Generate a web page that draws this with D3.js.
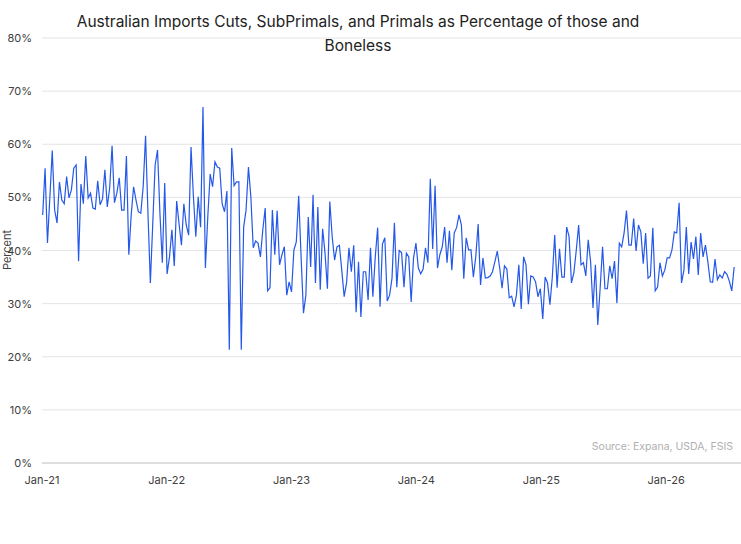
<!DOCTYPE html>
<html><head><meta charset="utf-8">
<script src="https://cdn.jsdelivr.net/npm/d3@7"></script>
<style>body{margin:0;background:#fff;font-family:Inter,"Noto Sans",sans-serif}</style>
</head><body><svg id="chart" width="741" height="544"></svg>
<script>
// weekly share, percent
const y2021 = [46.7,55.5,41.4,50,58.8,47.6,45.2,52.9,49.5,48.8,53.9,49.9,51.4,55.5,56.1,38,52.5,48.8,57.8,49.9,50.8,48,47.8,53.1,48.6,49.7,55.2,48.2,51.8,59.7,49,50.8,53.7,47.6,47.6,57.8,39.2,46.7,52,49.5,47.3,47,52,61.6,47,33.9,45,56.1,58.9,47,37.7,52.7];
const y2022 = [35.6,38.8,43.9,37.1,49.3,45,41,48.8,44.8,42.9,59.5,50.1,42.6,50.1,44.4,67,36.7,46.3,54.4,52,56.7,55.7,55.5,48.8,47.3,51.2,21.3,59.3,52.2,52.9,52.9,21.3,44.4,47.6,55.7,50.1,40.5,41.8,41.4,38.8,43.9,48,32.4,33,47.6,39.2,47.5,37.3,39.2,40.7,31.6];
const y2023 = [34.1,32.2,40.1,41.6,50.3,38.8,28.2,31.6,46.3,36.9,50.5,33.9,48.2,32.6,44.1,39.5,32.8,49.2,42.6,38.2,40.7,41,36.3,31.3,33.9,40.5,36,41,28.4,37.9,27.5,36,36,30.7,40.5,31.3,38.8,44.3,29.4,41.2,42.4,30.5,31.6,34.8,45.2,33.1,40,39.6,33.1,39.5,38.8];
const y2024 = [30.3,38.6,41.4,36.7,35.6,36.5,40.5,37.7,53.5,40.3,52.2,36.7,39.2,40.7,44.4,37.7,43.7,36.3,43.3,44.3,46.7,44.8,34.7,42.4,40.1,40.1,35,38.8,45,33.5,38.6,34.8,34.9,35.2,36,37.9,39.9,36.7,32.9,37.1,36.5,31.1,31.4,29.4,31.6,37.3,29,38.8,37.3,29.9,35.2];
const y2025 = [35,34.1,31.3,32.8,27.1,35,33.9,29.8,35,42.9,33,40.3,35,35,44.4,42.6,33.9,35.8,40,44.8,37.3,37.7,35.2,42,37.9,29.2,37.3,26,33,40.7,32.8,32.8,37.1,34.7,38,30.1,41.4,40.7,43.3,47.5,41,41,46,39.9,44.8,43.5,37.5,43.3,34.8,35.2,44.3,32.4];
const y2026 = [33.1,37.7,35.2,36.3,38.6,38.6,40.1,43.5,43.3,49,33.9,36.3,44.4,35.6,41.6,38.4,42.6,35.4,43.3,38.8,41,37.9,34.1,34,38.4,34.5,35.4,34.8,36,35.5,34.2,32.4,36.9];
const values = [].concat(y2021, y2022, y2023, y2024, y2025, y2026);
const start = new Date(2021, 0, 3);
const series = values.map((v, i) => ({date: d3.timeWeek.offset(start, i), value: v}));
const yTicks = [0,10,20,30,40,50,60,70,80];
const xTicks = [2021,2022,2023,2024,2025,2026].map(y => new Date(y, 0, 1));

const svg = d3.select("#chart");
const x = d3.scaleTime().domain([new Date(2021,0,1), new Date(2026,7,8)]).range([42,741]);
const y = d3.scaleLinear().domain([0,80]).range([463,38]);

svg.append("g").selectAll("line").data(yTicks.slice(1)).join("line")
  .attr("x1",42).attr("x2",741).attr("y1",d=>y(d)).attr("y2",d=>y(d))
  .attr("stroke","#e4e4e4").attr("stroke-width",1);
svg.append("line").attr("x1",42).attr("x2",741).attr("y1",y(0)).attr("y2",y(0))
  .attr("stroke","#bdbdbd");

svg.append("g").selectAll("text").data(yTicks).join("text")
  .attr("x",32).attr("y",d=>y(d)+4).attr("text-anchor","end")
  .attr("font-size",11).attr("fill","#404040").text(d=>d+"%");
svg.append("g").selectAll("text").data(xTicks).join("text")
  .attr("x",d=>x(d)).attr("y",484).attr("text-anchor","middle")
  .attr("font-size",11).attr("fill","#404040").text(d3.timeFormat("%b-%y"));

svg.append("path").datum(series)
  .attr("d", d3.line().x(d=>x(d.date)).y(d=>y(d.value)))
  .attr("fill","none").attr("stroke","#2458e8").attr("stroke-width",1.2);

svg.append("text").attr("transform","translate(11,250) rotate(-90)")
  .attr("text-anchor","middle").attr("font-size",11).attr("fill","#404040").text("Percent");
const title = svg.append("text").attr("text-anchor","middle").attr("font-size",15.5).attr("fill","#222");
title.append("tspan").attr("x",358).attr("y",27).text("Australian Imports Cuts, SubPrimals, and Primals as Percentage of those and");
title.append("tspan").attr("x",358).attr("y",51).text("Boneless");
svg.append("text").attr("x",733).attr("y",450).attr("text-anchor","end")
  .attr("font-size",10.5).attr("fill","#b0b0b0").text("Source: Expana, USDA, FSIS");
</script></body></html>
